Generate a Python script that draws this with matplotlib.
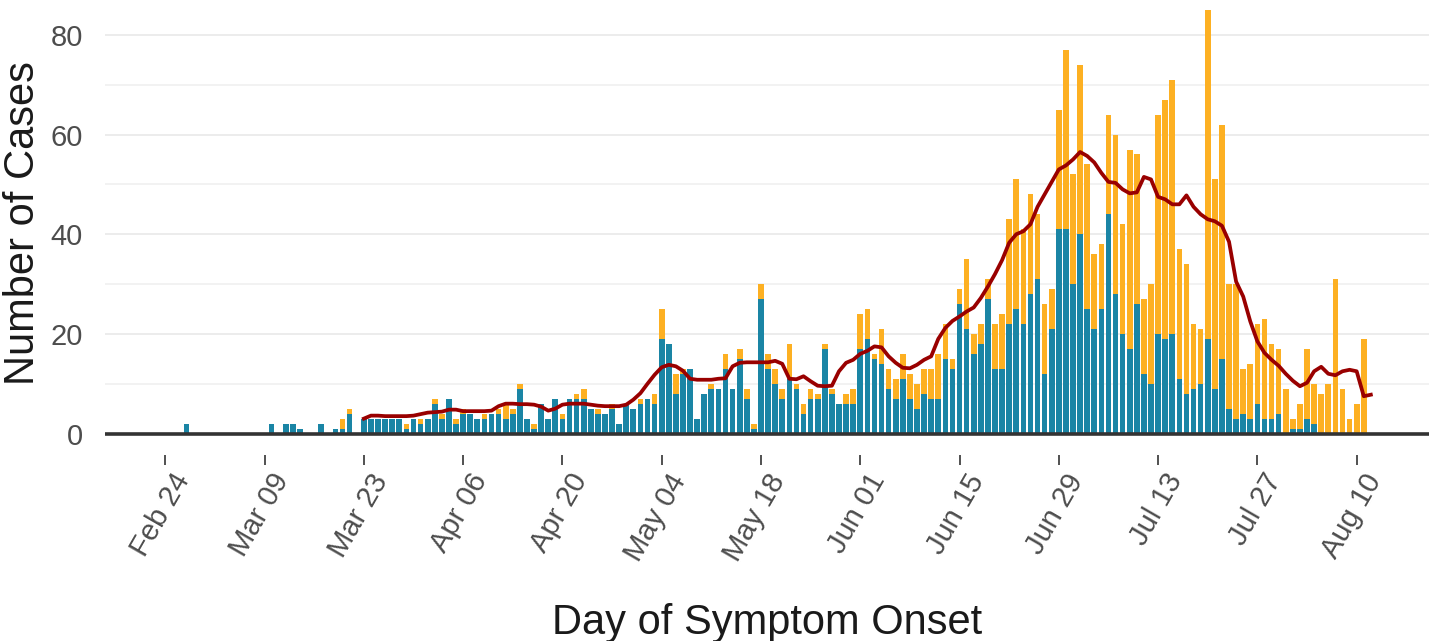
import pandas as pd
import matplotlib
import matplotlib.pyplot as plt
import matplotlib.dates as mdates
import matplotlib.transforms as mtransforms

matplotlib.use("Agg")
plt.rcParams["font.family"] = ["Liberation Sans", "DejaVu Sans"]

# daily counts from Feb 24, 2020
first_day = "2020-02-24"
teal_counts = [
    0, 0, 0, 2, 0, 0, 0, 0, 0, 0,
    0, 0, 0, 0, 0, 2, 0, 2, 2, 1,
    0, 0, 2, 0, 1, 1, 4, 0, 3, 3,
    3, 3, 3, 3, 1, 3, 2, 3, 6, 3,
    7, 2, 4, 4, 3, 3, 4, 4, 3, 4,
    9, 3, 1, 6, 3, 7, 3, 7, 7, 7,
    5, 4, 4, 5, 2, 6, 5, 6, 7, 6,
    19, 18, 8, 12, 13, 3, 8, 9, 9, 13,
    9, 15, 7, 1, 27, 13, 10, 7, 11, 9,
    4, 7, 7, 17, 8, 6, 6, 6, 17, 19,
    15, 14, 9, 7, 11, 7, 5, 8, 7, 7,
    15, 13, 26, 21, 16, 18, 27, 13, 13, 22,
    25, 22, 28, 31, 12, 21, 41, 41, 30, 40,
    25, 21, 25, 44, 28, 20, 17, 26, 12, 10,
    20, 19, 20, 11, 8, 9, 10, 19, 9, 15,
    5, 3, 4, 3, 6, 3, 3, 4, 0, 1,
    1, 3, 2, 0, 0, 0, 0, 0, 0, 0,
]
orange_counts = [
    0, 0, 0, 0, 0, 0, 0, 0, 0, 0,
    0, 0, 0, 0, 0, 0, 0, 0, 0, 0,
    0, 0, 0, 0, 0, 2, 1, 0, 0, 0,
    0, 0, 0, 0, 1, 0, 1, 0, 1, 1,
    0, 1, 1, 0, 0, 1, 0, 1, 3, 1,
    1, 0, 1, 0, 0, 0, 1, 0, 1, 2,
    0, 1, 0, 1, 0, 0, 0, 1, 0, 2,
    6, 0, 4, 1, 0, 0, 0, 1, 0, 3,
    0, 2, 2, 1, 3, 3, 3, 2, 7, 1,
    2, 2, 1, 1, 1, 0, 2, 3, 7, 6,
    1, 7, 4, 4, 5, 5, 5, 5, 6, 9,
    7, 2, 3, 14, 4, 4, 4, 9, 11, 21,
    26, 19, 20, 13, 14, 8, 24, 36, 22, 34,
    29, 15, 13, 20, 32, 22, 40, 30, 15, 20,
    44, 48, 51, 26, 26, 13, 11, 66, 42, 47,
    25, 27, 9, 11, 16, 20, 15, 13, 9, 2,
    5, 14, 8, 8, 10, 31, 9, 3, 6, 19,
]

# moving average line, from Mar 23
avg_first_day = "2020-03-23"
avg_cases = [
    3.0, 3.6, 3.6, 3.5, 3.5, 3.5, 3.5, 3.6, 3.9, 4.2,
    4.3, 4.4, 4.8, 4.8, 4.5, 4.5, 4.5, 4.5, 4.6, 5.5,
    6.0, 6.0, 5.9, 5.9, 5.8, 5.4, 4.6, 5.0, 5.8, 6.0,
    6.0, 6.0, 5.8, 5.6, 5.5, 5.5, 5.5, 5.8, 6.8, 8.1,
    10.0, 11.8, 13.3, 13.8, 13.5, 12.6, 11.0, 10.8, 10.8, 10.8,
    11.0, 11.1, 13.5, 14.2, 14.3, 14.3, 14.3, 14.3, 14.6, 14.0,
    11.0, 10.9, 11.5, 10.5, 9.6, 9.5, 9.6, 12.5, 14.2, 14.8,
    16.0, 16.6, 17.5, 17.3, 15.5, 14.2, 13.2, 13.1, 13.8, 14.8,
    15.5, 19.0, 21.2, 22.6, 23.5, 24.5, 25.3, 27.2, 29.5, 32.0,
    34.8, 38.3, 40.0, 40.6, 42.0, 45.5, 48.0, 50.5, 53.0, 53.8,
    55.0, 56.5, 55.7, 54.4, 52.3, 50.5, 50.3, 49.0, 48.2, 48.4,
    51.5, 51.0, 47.5, 47.0, 46.0, 46.0, 47.8, 45.5, 44.0, 43.0,
    42.6, 41.7, 38.5, 30.5, 27.5, 22.5, 18.5, 16.2, 14.8, 13.6,
    12.0, 10.6, 9.5, 10.2, 12.5, 13.4, 12.0, 11.7, 12.5, 12.8,
    12.5, 7.5, 7.8,
]

y_ticks = [0, 20, 40, 60, 80]

days = pd.date_range(first_day, periods=len(teal_counts))
avg_days = pd.date_range(avg_first_day, periods=len(avg_cases))
tick_days = pd.date_range("2020-02-24", "2020-08-10", freq="14D")

fig = plt.figure(figsize=(14.29, 6.41), dpi=100)
ax = fig.add_axes([105 / 1429, 1 - 455 / 641, 1 - 105 / 1429, 455 / 641])

ax.bar(days, teal_counts, width=0.8, color="#1A85A5", zorder=2)
ax.bar(days, orange_counts, bottom=teal_counts, width=0.8, color="#FDB022", zorder=2)
ax.plot(avg_days, avg_cases, color="#990000", lw=2.7, zorder=4)
ax.axhline(0, color="#333333", lw=2.6, zorder=3)

start = mdates.date2num(pd.Timestamp(first_day))
ax.set_xlim(start - 8.5, start + 178.2)
ax.set_ylim(-4.3, 87)

ax.set_yticks(y_ticks)
ax.set_yticks([10, 30, 50, 70], minor=True)
ax.grid(axis="y", which="major", color="#EBEBEB", lw=1.3)
ax.grid(axis="y", which="minor", color="#EFEFEF", lw=1.1)
ax.grid(axis="x", visible=False)
ax.set_axisbelow(True)
for s in ax.spines.values():
    s.set_visible(False)

ax.set_xticks(tick_days)
ax.xaxis.set_major_formatter(mdates.DateFormatter("%b %d"))
ax.tick_params(axis="x", length=7, width=1.2, color="#333333", pad=3,
               labelsize=21, labelcolor="#4D4D4D")
ax.tick_params(axis="y", which="both", length=0, pad=16,
               labelsize=21, labelcolor="#4D4D4D")

offset = mtransforms.ScaledTranslation(6 / 100, 0, fig.dpi_scale_trans)
for lab in ax.get_xticklabels():
    lab.set_rotation(60)
    lab.set_ha("right")
    lab.set_va("top")
    lab.set_rotation_mode("anchor")
    lab.set_transform(lab.get_transform() + offset)

ax.set_ylabel("Number of Cases", fontsize=30, color="#1A1A1A")
ax.yaxis.set_label_coords(-0.047, 0.51)
ax.set_xlabel("Day of Symptom Onset", fontsize=30, color="#1A1A1A")
ax.xaxis.set_label_coords(0.5, -0.325)

fig.savefig("out.png", dpi=100)
